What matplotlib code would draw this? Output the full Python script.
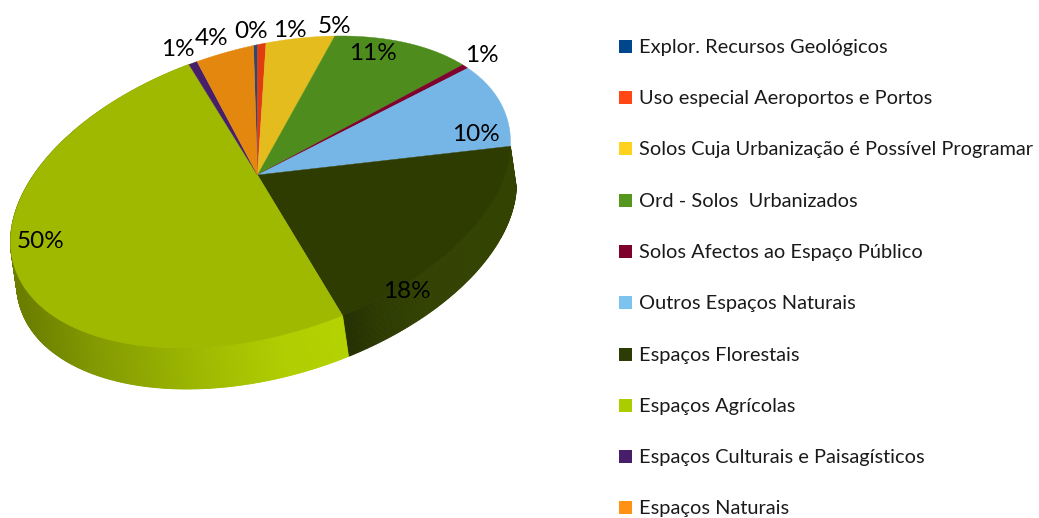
#!/usr/bin/env python3

import numpy as np
import matplotlib
matplotlib.use('Agg')
import matplotlib.pyplot as plt
from matplotlib.patches import Rectangle

categories = ['Explor. Recursos Geológicos', 'Uso especial Aeroportos e Portos',
              'Solos Cuja Urbanização é Possível Programar', 'Ord - Solos  Urbanizados',
              'Solos Afectos ao Espaço Público', 'Outros Espaços Naturais',
              'Espaços Florestais', 'Espaços Agrícolas',
              'Espaços Culturais e Paisagísticos', 'Espaços Naturais']
values = [0.3, 0.6, 5.0, 11.1, 0.6, 10.0, 17.8, 49.9, 0.6, 4.1]
value_labels = ['0%', '1%', '5%', '11%', '1%', '10%', '18%', '50%', '1%', '4%']

top_colors = ['#32466e', '#e13c0f', '#e4bc1e', '#4e8c1e', '#7d002d',
              '#76b6e6', '#2e3c02', '#9eb900', '#461e69', '#e4870f']
legend_colors = ['#00468c', '#ff4614', '#ffd21e', '#55961e', '#7d002d',
                 '#7dc3f0', '#2d3c05', '#aacd00', '#461e69', '#ff9114']

# label centres in pixels
label_pos = [(251, 31.5), (290, 30.5), (334, 26.5), (373, 53.5), (482, 55.5),
             (476, 134.5), (407, 291.5), (41, 241.5), (178, 49.5), (212, 38.5)]
legend_y = [46, 97, 148, 200, 251, 302, 354, 405, 456, 507]

W, H = 1039, 518
centre = (260.5, 192)
rx, shear, ry = 250, 49.7, 147.9
apex = np.array([-0.012, 0.119])
depth = (6, 41)

plt.rcParams['font.family'] = ['Lato', 'DejaVu Sans']


def project(theta):
    # circle angle (clockwise from top) to pixels, with the pie centre pushed to apex
    u, v = np.sin(theta), np.cos(theta)
    d = np.hypot(*apex)
    ex, ey = apex / d
    par = u * ex + v * ey
    pu, pv = u - par * ex, v - par * ey
    k = np.sqrt(1 - d ** 2) / (1 + d * par)
    new_par = (par + d) / (1 + d * par)
    nu = new_par * ex + pu * k
    nv = new_par * ey + pv * k
    return centre[0] + rx * nu, centre[1] - (shear * nu + ry * nv)


def wall_shade(name, x):
    if name == 'Espaços Agrícolas':
        return np.interp(x, [20, 100, 200, 280, 345], [0.68, 0.84, 1.0, 1.11, 1.14])
    return np.interp(x, [350, 375, 420, 520], [0.82, 0.97, 1.1, 1.12])


fig = plt.figure(figsize=(W / 100, H / 100), dpi=100)
ax = fig.add_axes([0, 0, 1, 1])
ax.set_xlim(0, W)
ax.set_ylim(H, 0)
ax.axis('off')

edges = np.cumsum([0] + values) / sum(values) * 2 * np.pi - 0.003 * 2 * np.pi
pairs = list(zip(edges[:-1], edges[1:]))

# side wall, thin strips so the shading can change along the rim
for name, col, (a, b) in zip(categories, top_colors, pairs):
    if name not in ('Espaços Agrícolas', 'Espaços Florestais'):
        continue
    n = max(2, int((b - a) * 150))
    ts = np.linspace(a, b, n + 1)
    xs, ys = project(ts)
    base = np.array(matplotlib.colors.to_rgb(col))
    for i in range(n):
        c = np.clip(base * wall_shade(name, xs[i]), 0, 1)
        ax.fill([xs[i], xs[i + 1], xs[i + 1] + depth[0], xs[i] + depth[0]],
                [ys[i], ys[i + 1], ys[i + 1] + depth[1], ys[i] + depth[1]],
                color=c, lw=0.6, zorder=1)

# top face
u0, v0 = apex
apex_x = centre[0] + rx * u0
apex_y = centre[1] - (shear * u0 + ry * v0)
for col, (a, b) in zip(top_colors, pairs):
    ts = np.linspace(a, b, max(3, int((b - a) * 80)))
    xs, ys = project(ts)
    ax.fill(np.r_[apex_x, xs], np.r_[apex_y, ys], color=col, lw=0.3, zorder=2)

for txt, (x, y) in zip(value_labels, label_pos):
    ax.text(x, y, txt, fontsize=17.5, color='black', ha='center', va='center', zorder=3)

for name, col, y in zip(categories, legend_colors, legend_y):
    ax.add_patch(Rectangle((619, y - 6.5), 13, 13, color=col, lw=0))
    ax.text(639, y + 1.5, name, fontsize=14.45, color='#1a1a1a', ha='left', va='center')

fig.savefig('out.png', dpi=100)
